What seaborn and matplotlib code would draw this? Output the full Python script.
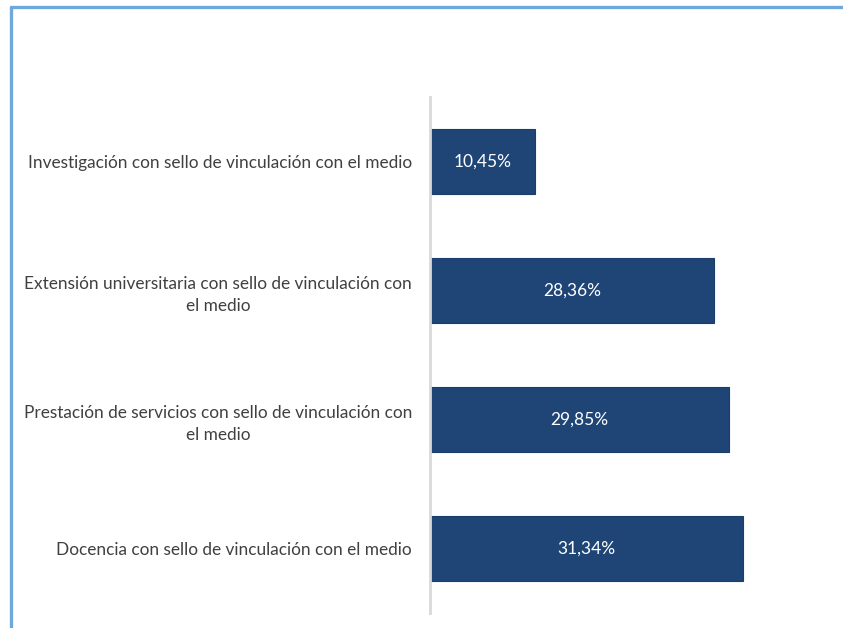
import matplotlib
matplotlib.use("Agg")
import matplotlib.pyplot as plt
import seaborn as sns
import pandas as pd
from matplotlib.lines import Line2D

categories = [
    "Investigación con sello de vinculación con el medio",
    "Extensión universitaria con sello de vinculación con\nel medio",
    "Prestación de servicios con sello de vinculación con\nel medio",
    "Docencia con sello de vinculación con el medio",
]
values = [10.45, 28.36, 29.85, 31.34]
value_labels = ["10,45%", "28,36%", "29,85%", "31,34%"]

df = pd.DataFrame({"categoria": categories, "valor": values})

sns.set_theme(style="white")
plt.rcParams['font.family'] = ['Lato', 'DejaVu Sans']

W, H = 843, 628
fig = plt.figure(figsize=(W / 100, H / 100), dpi=100)
ax = fig.add_axes([430 / W, 1 - 613 / H, 400 / W, 516 / H])

sns.barplot(data=df, x="valor", y="categoria", orient="h", color="#1F4577",
            width=0.5, saturation=1, edgecolor="#1A3D6B", linewidth=0.8, ax=ax)

ax.set_xlim(0, 40)
ax.set_ylim(3.5, -0.5)
ax.set_xlabel("")
ax.set_ylabel("")
ax.set_xticks([])
for s in ["top", "right", "bottom"]:
    ax.spines[s].set_visible(False)
ax.spines["left"].set_color("#D9D9D9")
ax.spines["left"].set_linewidth(2)
ax.tick_params(axis="y", length=0, pad=13)
for lab in ax.get_yticklabels():
    lab.set_fontsize(12.4)
    lab.set_color("#404040")
    lab.set_multialignment("center")
    lab.set_linespacing(1.45)

for i, (v, t) in enumerate(zip(values, value_labels)):
    ax.text(v / 2, i, t, ha="center", va="center", color="white", fontsize=12.5)

# outer border (blue) at top and left
fig.add_artist(Line2D([10.5 / W, 10.5 / W], [0, 1 - 6.5 / H], transform=fig.transFigure,
                      color="#6FA8DC", linewidth=2.4))
fig.add_artist(Line2D([10.5 / W, 1], [1 - 6.5 / H, 1 - 6.5 / H], transform=fig.transFigure,
                      color="#6FA8DC", linewidth=2.4))

fig.savefig("out.png", dpi=100)
